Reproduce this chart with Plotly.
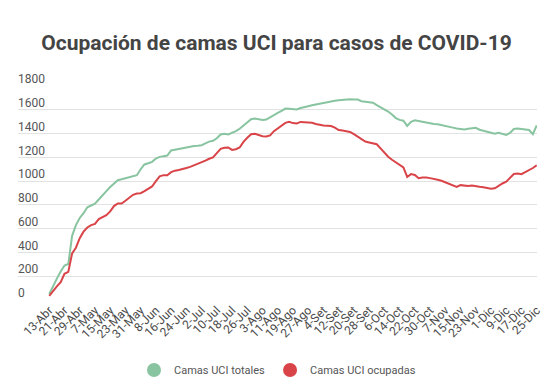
import pandas as pd
import plotly.graph_objects as go

# Values sampled every 2 days from 13-Abr-2020 to 25-Dic-2020
start_date = "2020-04-13"
end_date = "2020-12-25"

camas_totales = [
    50, 120, 180, 240, 290, 303, 540, 630, 690, 730,
    780, 795, 810, 845, 885, 916, 950, 980, 1008, 1015,
    1025, 1033, 1040, 1050, 1100, 1140, 1150, 1162, 1190, 1204,
    1210, 1215, 1258, 1262, 1270, 1276, 1282, 1290, 1295, 1298,
    1302, 1318, 1332, 1339, 1360, 1392, 1398, 1393, 1405, 1420,
    1440, 1468, 1490, 1520, 1527, 1522, 1514, 1518, 1538, 1560,
    1574, 1590, 1610, 1608, 1603, 1602, 1615, 1620, 1630, 1638,
    1645, 1652, 1658, 1668, 1672, 1676, 1680, 1684, 1686, 1688,
    1687, 1686, 1672, 1667, 1664, 1660, 1640, 1622, 1605, 1585,
    1560, 1530, 1515, 1508, 1465, 1499, 1512, 1505, 1495, 1490,
    1487, 1480, 1478, 1472, 1468, 1462, 1450, 1443, 1440, 1435,
    1440, 1446, 1448, 1432, 1422, 1412, 1402, 1398, 1406, 1396,
    1388, 1405, 1438, 1442, 1436, 1434, 1430, 1395, 1468,
]

camas_ocupadas = [
    34, 80, 115, 150, 220, 236, 392, 440, 520, 575,
    610, 630, 640, 680, 700, 714, 745, 790, 812, 812,
    835, 858, 885, 896, 898, 915, 935, 955, 1000, 1040,
    1050, 1050, 1075, 1088, 1094, 1100, 1110, 1120, 1132, 1142,
    1155, 1172, 1188, 1199, 1235, 1272, 1280, 1283, 1262, 1268,
    1283, 1330, 1365, 1395, 1398, 1388, 1378, 1376, 1385, 1420,
    1445, 1468, 1490, 1498, 1488, 1485, 1498, 1495, 1494, 1490,
    1480, 1471, 1468, 1466, 1463, 1450, 1430, 1425, 1420, 1414,
    1395, 1373, 1350, 1333, 1325, 1320, 1310, 1275, 1235, 1205,
    1180, 1160, 1135, 1115, 1035, 1059, 1052, 1025, 1030, 1031,
    1025, 1020, 1012, 1003, 990, 978, 960, 952, 966, 962,
    958, 962, 955, 952, 948, 940, 935, 940, 962, 980,
    995, 1030, 1060, 1064, 1058, 1075, 1092, 1110, 1134,
]

tick_labels = [
    "13-Abr", "21-Abr", "29-Abr", "7-May", "15-May", "23-May", "31-May",
    "8-Jun", "16-Jun", "24-Jun", "2-Jul", "10-Jul", "18-Jul", "26-Jul",
    "3-Ago", "11-Ago", "19-Ago", "27-Ago", "4-Set", "12-Set", "20-Set",
    "28-Set", "6-Oct", "14-Oct", "22-Oct", "30-Oct", "7-Nov", "15-Nov",
    "23-Nov", "1-Dic", "9-Dic", "17-Dic", "25-Dic",
]

y_ticks = [0, 200, 400, 600, 800, 1000, 1200, 1400, 1600, 1800]

series_names = ["Camas UCI totales", "Camas UCI ocupadas"]
colors = ["#88c4a0", "#d94449"]

dates = pd.date_range(start_date, end_date, freq="2D")
tick_dates = pd.date_range(start_date, end_date, freq="8D")

fig = go.Figure()
for name, vals, col in zip(series_names, [camas_totales, camas_ocupadas], colors):
    fig.add_trace(go.Scatter(x=dates, y=vals, mode="lines", name=name,
                             line=dict(color=col, width=2), showlegend=False,
                             hoverinfo="x+y"))
    fig.add_trace(go.Scatter(x=[None], y=[None], mode="markers", name=name,
                             marker=dict(color=col, size=14, symbol="circle"),
                             showlegend=True))

fig.update_layout(
    width=553, height=391,
    margin=dict(l=18, r=16, t=86, b=91, autoexpand=False),
    paper_bgcolor="white", plot_bgcolor="white",
    font=dict(family="Roboto, sans-serif", color="#555555", size=11),
    title=dict(text="<b>Ocupación de camas UCI para casos de COVID-19</b>",
               x=0.5, xanchor="center", y=1 - 43 / 391, yanchor="middle",
               font=dict(size=21, color="#444444", family="Roboto, sans-serif")),
    legend=dict(orientation="h", x=0.5, xanchor="center",
                yref="container", y=1 - 370 / 391, yanchor="middle",
                font=dict(size=11, color="#555555"), itemsizing="trace"),
    showlegend=True,
)

fig.update_xaxes(
    type="date",
    range=["2020-03-27 14:00", "2020-12-25 04:00"],
    tickvals=tick_dates, ticktext=tick_labels, tickangle=-45,
    showgrid=False, zeroline=False, showline=False,
    ticks="", tickfont=dict(size=12, color="#4a4a4a"),
)

fig.update_yaxes(
    range=[0, 1800], tickvals=y_ticks,
    showgrid=True, gridcolor="#e2e2e2", gridwidth=1,
    zeroline=False, showline=False, ticks="",
    ticklabelposition="inside", ticklabelshift=-7, ticklabelstandoff=-3,
    ticklabeloverflow="allow",
    tickfont=dict(size=12, color="#555555"),
)

fig.write_html("out.html", config={"displayModeBar": False},
               post_script="document.body.style.margin='0';")
